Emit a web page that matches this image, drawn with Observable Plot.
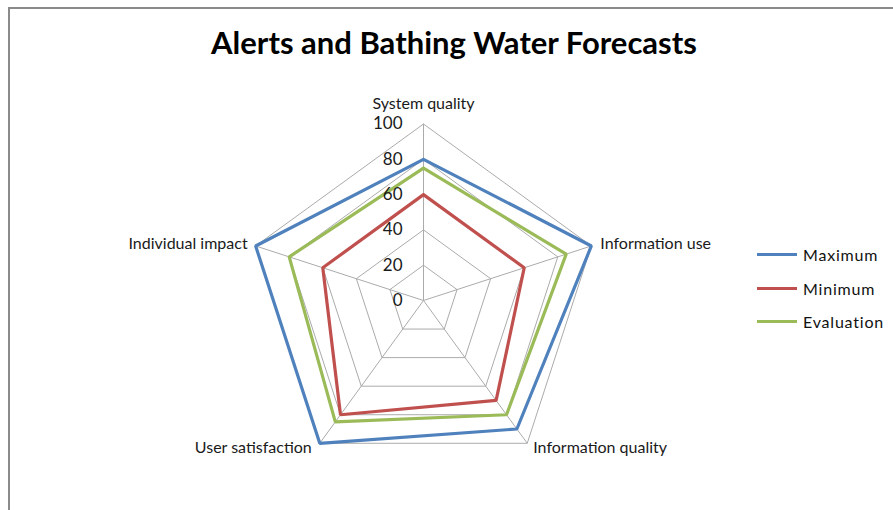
<!DOCTYPE html>
<html>
<head>
<meta charset="utf-8">
<script src="https://cdn.jsdelivr.net/npm/d3@7"></script>
<script src="https://cdn.jsdelivr.net/npm/@observablehq/plot@0.6"></script>
<style>
  html, body { margin: 0; padding: 0; background: #fff; }
  #wrap { position: relative; width: 893px; height: 510px; overflow: hidden; font-family: Lato, "Open Sans", sans-serif; }
  #frame { position: absolute; left: 8px; top: 7px; width: 1000px; height: 1000px; border-top: 2px solid #8a8a8a; border-left: 2px solid #8a8a8a; box-sizing: border-box; pointer-events: none; }
  #title { position: absolute; left: 0; width: 908px; top: 23px; text-align: center; font-weight: bold; font-size: 31px; color: #000; letter-spacing: 0px; }
  #legend { position: absolute; left: 757px; top: 238px; font-size: 16px; letter-spacing: 0.8px; color: #111; }
  .item { display: flex; align-items: center; height: 33.5px; }
  .sw { width: 40px; height: 3px; margin-right: 6px; }
  #chart { position: absolute; left: 0; top: 0; }
  #chart text.lbl { letter-spacing: 0.5px; }
  #chart text.cat { letter-spacing: 1.1px; }
</style>
</head>
<body>
<div id="wrap">
  <div id="chart"></div>
  <div id="title"></div>
  <div id="legend"></div>
  <div id="frame"></div>
</div>
<script>
const categories = ["System quality", "Information use", "Information quality", "User satisfaction", "Individual impact"];
const maximum = [80, 100, 90, 100, 100];
const minimum = [60, 60, 70, 80, 60];
const evaluation = [75, 85, 80, 85, 80];
const seriesNames = ["Maximum", "Minimum", "Evaluation"];
const seriesColors = ["#4F81BD", "#C0504D", "#9BBB59"];
const tickValues = [0, 20, 40, 60, 80, 100];
const titleText = "Alerts and Bathing Water Forecasts";

const seriesValues = [maximum, minimum, evaluation];
const n = categories.length;
const ang = i => Math.PI / 2 - (2 * Math.PI * i) / n;

const rings = [];
tickValues.filter(t => t > 0).forEach(t => {
  for (let i = 0; i <= n; i++) {
    const a = ang(i % n);
    rings.push({ t, x: t * Math.cos(a), y: t * Math.sin(a) });
  }
});
const spokes = categories.map((c, i) => ({ x2: 100 * Math.cos(ang(i)), y2: 100 * Math.sin(ang(i)) }));

const lines = [];
seriesValues.forEach((vals, s) => {
  for (let i = 0; i <= n; i++) {
    const v = vals[i % n], a = ang(i % n);
    lines.push({ series: seriesNames[s], x: v * Math.cos(a), y: v * Math.sin(a) });
  }
});

const labelPts = categories.map((c, i) => ({ label: c, i, x: 100 * Math.cos(ang(i)), y: 100 * Math.sin(ang(i)) }));

const W = 893, H = 510, cx = 423, cy = 300, k = 1.765;
const labelFont = { fontSize: 16, fill: "#1a1a1a", fontFamily: "Lato, 'Open Sans', sans-serif", className: "cat" };

const chart = Plot.plot({
  width: W, height: H,
  margin: 0,
  x: { domain: [-cx / k, (W - cx) / k], range: [0, W], axis: null },
  y: { domain: [-(H - cy) / k, cy / k], range: [H, 0], axis: null },
  color: { domain: seriesNames, range: seriesColors },
  style: { background: "transparent", overflow: "visible" },
  marks: [
    Plot.line(rings, { x: "x", y: "y", z: "t", stroke: "#ababab", strokeWidth: 1 }),
    Plot.link(spokes, { x1: 0, y1: 0, x2: "x2", y2: "y2", stroke: "#ababab", strokeWidth: 1 }),
    Plot.line(lines, { x: "x", y: "y", z: "series", stroke: "series", strokeWidth: 3.2, strokeLinejoin: "miter", curve: "linear" }),
    Plot.text(tickValues, { x: 0, y: d => d, text: d => String(d), textAnchor: "end", dx: -21, fontSize: 17, fill: "#1a1a1a", fontFamily: "Lato, sans-serif", className: "lbl" }),
    Plot.text(labelPts.filter(d => d.i === 0), { x: "x", y: "y", text: "label", textAnchor: "middle", dy: -20, ...labelFont }),
    Plot.text(labelPts.filter(d => d.i === 1), { x: "x", y: "y", text: "label", textAnchor: "start", dx: 9, dy: -2, ...labelFont }),
    Plot.text(labelPts.filter(d => d.i === 2), { x: "x", y: "y", text: "label", textAnchor: "start", dx: 6, dy: 5, ...labelFont }),
    Plot.text(labelPts.filter(d => d.i === 3), { x: "x", y: "y", text: "label", textAnchor: "end", dx: -8, dy: 5, ...labelFont }),
    Plot.text(labelPts.filter(d => d.i === 4), { x: "x", y: "y", text: "label", textAnchor: "end", dx: -8, dy: -2, ...labelFont })
  ]
});
document.getElementById("chart").appendChild(chart);
document.getElementById("title").textContent = titleText;

const legend = document.getElementById("legend");
seriesNames.forEach((name, i) => {
  const item = document.createElement("div");
  item.className = "item";
  const sw = document.createElement("div");
  sw.className = "sw";
  sw.style.background = seriesColors[i];
  const lab = document.createElement("span");
  lab.textContent = name;
  item.appendChild(sw);
  item.appendChild(lab);
  legend.appendChild(item);
});
</script>
</body>
</html>
